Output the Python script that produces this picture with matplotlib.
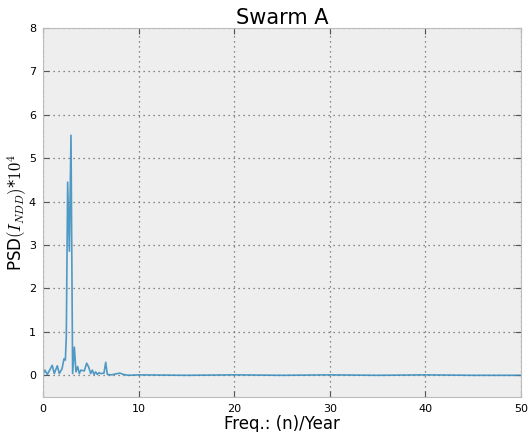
import numpy as np
import matplotlib
matplotlib.use("Agg")
from matplotlib import pyplot as plt

# frequency (n/year) and PSD values
freq = [0.0, 0.2, 0.45, 0.97, 1.18, 1.5, 1.71, 1.99, 2.2, 2.34, 2.44, 2.58,
        2.76, 2.93, 3.1, 3.28, 3.45, 3.63, 3.8, 3.97, 4.32, 4.57, 4.78, 4.99,
        5.16, 5.34, 5.51, 5.68, 5.86, 6.03, 6.38, 6.56, 6.73, 7.18, 7.77,
        8.05, 8.4, 8.9, 10, 15, 20, 25, 30, 35, 40, 45, 50]
psd = [0.02, 0.12, 0.02, 0.23, 0.04, 0.22, 0.04, 0.15, 0.38, 0.35, 0.9, 4.45,
       2.86, 5.53, 0.04, 0.65, 0.08, 0.2, 0.04, 0.12, 0.1, 0.28, 0.19, 0.04,
       0.12, 0.02, 0.08, 0.02, 0.06, 0.04, 0.05, 0.3, 0.02, 0.01, 0.04,
       0.05, 0.02, 0.0, 0.01, 0.0, 0.01, 0.0, 0.01, 0.0, 0.01, 0.0, 0.0]

plt.rcParams['mathtext.fontset'] = 'cm'
plt.rcParams['xtick.direction'] = 'in'
plt.rcParams['ytick.direction'] = 'in'

fig = plt.figure(figsize=(5.28, 4.32), dpi=100)
ax = fig.add_axes([0.0814, 0.081, 0.9053, 0.854])
ax.set_facecolor('#eeeeee')

ax.plot(freq, psd, color='#348ABD', lw=1.2, alpha=0.85)

ax.set_xlim(0, 50)
ax.set_ylim(-0.5, 8)
ax.set_xticks([0, 10, 20, 30, 40, 50])
ax.set_yticks([0, 1, 2, 3, 4, 5, 6, 7, 8])
ax.grid(True, color='#666666', linestyle=(0, (1, 3)), lw=0.9)
ax.tick_params(labelsize=8, top=True, right=True, length=4, pad=5,
               color='#555555')
for s in ax.spines.values():
    s.set_color('#bcbcbc')

ax.set_title('Swarm A', fontsize=15, pad=3)
ax.set_xlabel('Freq.: (n)/Year', fontsize=12, labelpad=1)
ax.set_ylabel(r'PSD$(I_{NDD})$*$10^4$', fontsize=12, labelpad=0)

fig.savefig('out.png', dpi=100)
